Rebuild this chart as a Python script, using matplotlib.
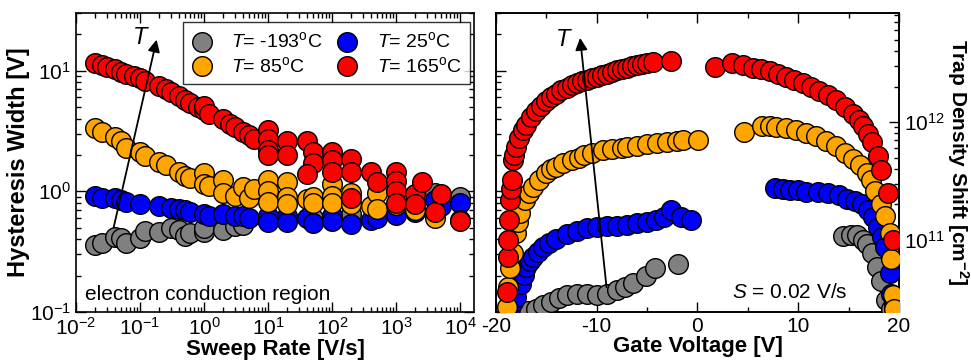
import numpy as np
import matplotlib
matplotlib.use("Agg")
import matplotlib.pyplot as plt
from matplotlib.ticker import LogLocator, MultipleLocator

plt.rcParams['font.family'] = ['Liberation Sans', 'DejaVu Sans']
plt.rcParams['mathtext.fontset'] = 'custom'
plt.rcParams['mathtext.rm'] = 'Liberation Sans'
plt.rcParams['mathtext.it'] = 'Liberation Sans:italic'
plt.rcParams['mathtext.bf'] = 'Liberation Sans:bold'
plt.rcParams['axes.unicode_minus'] = False

# Temperaturas e cores
temps = ['-193', '25', '85', '165']
cores = ['#808080', '#0000FF', '#FFA500', '#FF0000']

# Painel esquerdo: largura de histerese vs taxa de varredura
rate_m193 = [0.02, 0.025, 0.04, 0.05, 0.06, 0.1, 0.12, 0.2, 0.3, 0.4, 0.5, 0.6,
             1, 1, 2, 3, 4, 10, 20, 50, 100, 200, 500, 1000, 2000, 4000, 10000]
hw_m193 = [0.36, 0.37, 0.42, 0.41, 0.37, 0.41, 0.47, 0.46, 0.5, 0.48, 0.43, 0.45,
           0.46, 0.5, 0.48, 0.52, 0.53, 0.57, 0.6, 0.6, 0.62, 0.65, 0.66, 0.7, 0.8, 0.97, 0.9]

rate_25 = [0.02, 0.025, 0.04, 0.05, 0.06, 0.1, 0.2, 0.3, 0.4, 0.5, 0.6, 1, 1.2, 2, 3, 4, 5,
           10, 10, 20, 20, 40, 50, 100, 100, 200, 400, 500, 1000, 2000, 4000, 5000, 10000]
hw_25 = [0.91, 0.88, 0.88, 0.85, 0.82, 0.78, 0.75, 0.73, 0.72, 0.70, 0.68, 0.65, 0.63, 0.65,
         0.62, 0.62, 0.6, 0.62, 0.56, 0.62, 0.56, 0.6, 0.55, 0.62, 0.57, 0.54, 0.58, 0.6,
         0.64, 0.67, 0.84, 0.75, 0.8]

rate_85 = [0.02, 0.025, 0.04, 0.05, 0.06, 0.1, 0.12, 0.2, 0.25, 0.4, 0.5, 0.6, 1, 1, 1.2,
           2, 2, 3, 4, 5, 6, 10, 10, 10, 20, 20, 20, 40, 50, 50, 100, 100, 100, 200, 200,
           400, 500, 500, 1000, 2000, 4000, 10000]
hw_85 = [3.35, 3.1, 2.8, 2.6, 2.3, 2.1, 1.95, 1.75, 1.65, 1.45, 1.35, 1.28, 1.42, 1.15, 1.1,
         1.25, 0.97, 0.92, 1.08, 0.88, 1.05, 1.25, 1.0, 0.82, 1.2, 0.9, 0.78, 0.86, 0.9, 0.8,
         1.15, 0.92, 0.8, 0.97, 0.78, 0.75, 0.97, 0.72, 0.77, 0.7, 0.6, 0.58]

rate_165 = [0.02, 0.025, 0.03, 0.04, 0.05, 0.06, 0.08, 0.1, 0.12, 0.2, 0.25, 0.3, 0.4, 0.5,
            0.6, 0.8, 1, 1, 1.2, 2, 2.5, 3, 4, 5, 6, 10, 10, 10, 10, 20, 20, 40, 50, 50, 40,
            100, 100, 100, 200, 200, 200, 400, 500, 1000, 1000, 1000, 1000, 2000, 2000,
            2500, 4000, 5000, 10000]
hw_165 = [11.6, 11.2, 10.8, 10.4, 9.8, 9.4, 9.0, 8.6, 8.2, 7.4, 7.0, 6.6, 6.1, 5.7, 5.4,
          5.0, 4.7, 5.1, 4.4, 4.0, 3.6, 3.4, 3.1, 2.9, 2.7, 3.2, 2.7, 2.2, 2.0, 2.6, 2.0,
          2.6, 2.1, 1.7, 1.4, 2.1, 1.8, 1.45, 1.85, 1.45, 0.88, 1.45, 1.2, 1.45, 1.22, 1.0,
          0.8, 0.95, 0.78, 1.2, 0.68, 0.95, 0.57]

# Painel direito: deslocamento da densidade de armadilhas (x 1e11 cm^-2) vs tensao de porta
vg_m193 = [-16.8, -16.0, -15.3, -14.5, -13.7, -13.0, -12.0, -11.0, -10.0, -9.0, -8.0, -7.2,
           -6.4, -5.1, -4.2, -1.9,
           14.4, 15.2, 15.8, 16.4, 16.8, 17.3, 17.8, 18.2, 18.7, 19.2]
nt_m193 = [0.25, 0.26, 0.28, 0.30, 0.32, 0.34, 0.35, 0.35, 0.34, 0.35, 0.38, 0.40,
           0.43, 0.49, 0.58, 0.63,
           1.07, 1.10, 1.10, 1.0, 0.93, 0.78, 0.59, 0.45, 0.31, 0.26]

vg_25 = [-18.6, -18.3, -18.0, -17.5, -17.2, -17.0, -16.6, -16.3, -15.8, -15.3, -14.7, -14.0,
         -13.0, -12.0, -11.0, -10.0, -9.0, -8.0, -7.0, -6.0, -5.0, -4.1, -3.3, -2.6, -1.6, -0.6,
         7.7, 8.5, 9.2, 10.0, 10.8, 12.0, 13.0, 14.0, 14.8, 15.6, 16.3, 16.9, 17.4, 17.9,
         18.3, 18.6, 19.1, 19.2, 19.5]
nt_25 = [0.26, 0.30, 0.33, 0.42, 0.50, 0.59, 0.66, 0.72, 0.79, 0.87, 0.95, 1.02,
         1.12, 1.20, 1.26, 1.29, 1.32, 1.32, 1.35, 1.38, 1.41, 1.48, 1.58, 1.78, 1.58, 1.48,
         2.75, 2.7, 2.63, 2.63, 2.57, 2.57, 2.51, 2.4, 2.24, 2.14, 2.0, 1.78, 1.58, 1.29,
         1.05, 0.87, 0.52, 0.35, 0.28]

vg_85 = [-18.9, -18.8, -18.6, -18.3, -18.0, -17.8, -17.6, -17.1, -16.7, -16.3, -15.7, -15.0,
         -14.5, -14.0, -13.3, -12.5, -11.8, -11.3, -10.5, -9.4, -8.5, -7.5, -7.0, -6.0, -5.0,
         -4.0, -3.0, -2.0, -1.4, 0.1,
         4.6, 6.4, 7.2, 7.8, 8.8, 9.8, 10.8, 11.8, 12.8, 13.8, 14.6, 15.4, 16.1, 16.8, 17.2,
         17.6, 18.2, 18.6, 19.1, 19.2, 19.4, 19.5]
nt_85 = [0.27, 0.40, 0.58, 0.78, 1.15, 1.41, 1.70, 2.19, 2.5, 2.82, 3.24, 3.72,
         3.98, 4.17, 4.47, 4.8, 5.0, 5.25, 5.5, 5.75, 5.9, 6.0, 6.17, 6.3, 6.46,
         6.6, 6.76, 6.9, 7.1, 7.1,
         8.3, 9.3, 9.3, 9.1, 8.9, 8.5, 8.1, 7.6, 6.9, 6.2, 5.5, 4.9, 4.3, 3.7, 3.2,
         2.6, 2.0, 1.6, 1.15, 0.69, 0.34, 0.26]

vg_165 = [-18.9, -18.85, -18.8, -18.75, -18.6, -18.5, -18.4, -18.3, -18.2, -18.0, -17.7,
          -17.3, -17.0, -16.5, -16.0, -15.5, -15.0, -14.5, -14.0, -13.5, -13.0, -12.5, -12.0,
          -11.5, -11.0, -10.5, -10.0, -9.5, -9.0, -8.5, -8.0, -7.5, -7.0, -6.5, -6.0, -5.5,
          -5.0, -4.4, -2.6,
          1.7, 3.4, 4.5, 5.5, 6.3, 7.2, 8.0, 8.8, 9.6, 10.5, 11.3, 12.1, 13.0, 13.8, 14.6,
          15.4, 16.0, 16.4, 16.9, 17.3, 17.9, 18.2, 18.9, 19.4]
nt_165 = [0.36, 0.72, 1.0, 1.48, 2.19, 2.7, 3.24, 4.79, 5.3, 6.17, 7.3,
          8.51, 9.5, 10.96, 12.3, 13.8, 15.0, 16.2, 17.4, 18.5, 19.5, 20.5, 21.4,
          22.1, 22.8, 23.4, 24.0, 24.8, 25.6, 26.5, 27.5, 28.2, 28.9, 29.6, 30.2, 30.9,
          31.6, 32.4, 33.1,
          29.5, 31.6, 30.2, 28.8, 28.2, 26.9, 25.7, 24.0, 22.9, 21.4, 20.0, 18.2, 17.0, 15.5,
          13.5, 11.7, 10.5, 9.3, 7.9, 6.8, 5.1, 3.9, 2.5, 1.0]

rates = [rate_m193, rate_25, rate_85, rate_165]
hws = [hw_m193, hw_25, hw_85, hw_165]
vgs = [vg_m193, vg_25, vg_85, vg_165]
nts = [nt_m193, nt_25, nt_85, nt_165]

fig = plt.figure(figsize=(9.71, 3.63), dpi=100)
ax1 = fig.add_axes([0.0783, 0.1405, 0.410, 0.8237])
ax2 = fig.add_axes([0.5108, 0.1405, 0.415, 0.8237])
ax2r = ax2.twinx()

ms = 200
handles = []
for T, c, x, y in zip(temps, cores, rates, hws):
    h = ax1.scatter(x, y, s=ms, color=c, edgecolor='k', linewidth=1.0,
                    label=r'$\mathit{T}$= ' + T + r'$^{\mathrm{o}}$C', zorder=3)
    handles.append(h)

for c, x, y in zip(cores, vgs, nts):
    ax2r.scatter(x, np.array(y) * 1e11, s=ms, color=c, edgecolor='k', linewidth=1.0, zorder=3)

# Eixos do painel esquerdo
ax1.set_xscale('log')
ax1.set_yscale('log')
ax1.set_xlim(1e-2, 1.65e4)
ax1.set_ylim(0.1, 30)
ax1.xaxis.set_major_locator(LogLocator(base=10, numticks=10))
ax1.xaxis.set_minor_locator(LogLocator(base=10, subs=np.arange(2, 10), numticks=20))
ax1.set_xlabel('Sweep Rate [V/s]', fontsize=16, fontweight='bold', labelpad=0)
ax1.set_ylabel('Hysteresis Width [V]', fontsize=17, fontweight='bold', labelpad=0)
ax1.tick_params(which='both', direction='in', top=True, right=True, labelsize=15)
ax1.tick_params(which='major', length=7, width=1)
ax1.tick_params(which='minor', length=3.5, width=1)

# Eixos do painel direito
ax2.set_xlim(-20, 20)
ax2.set_yscale('log')
ax2.set_ylim(0.1, 30)
ax2.xaxis.set_major_locator(MultipleLocator(10))
ax2.xaxis.set_minor_locator(MultipleLocator(5))
ax2.tick_params(which='both', direction='in', top=True, right=False, labelleft=False, labelsize=15)
ax2.tick_params(which='major', length=7, width=1)
ax2.tick_params(which='minor', length=3.5, width=1)
ax2.set_xlabel('Gate Voltage [V]', fontsize=16, fontweight='bold', labelpad=0)

ax2r.set_yscale('log')
ax2r.set_ylim(2.45e10, 8.4e12)
ax2r.tick_params(which='both', direction='in', labelsize=15)
ax2r.tick_params(which='major', length=7, width=1)
ax2r.tick_params(which='minor', length=3.5, width=1)
ax2r.set_ylabel('Trap Density Shift [cm$^{\\mathbf{-2}}$]', fontsize=15, fontweight='bold',
                rotation=270, labelpad=19)

for ax in (ax1, ax2, ax2r):
    for s in ax.spines.values():
        s.set_linewidth(1.2)

# Legenda
ordem = [handles[0], handles[2], handles[1], handles[3]]
leg = ax1.legend(ordem, [h.get_label() for h in ordem],
                 ncol=2, loc='upper right', bbox_to_anchor=(0.99, 0.97), borderaxespad=0,
                 fontsize=14, frameon=True, fancybox=False, edgecolor='k',
                 handlelength=1.0, handletextpad=1.0, columnspacing=0.8,
                 labelspacing=0.25, borderpad=0.45)
leg.get_frame().set_linewidth(1.0)

# Setas de temperatura
ax1.annotate('', xy=(0.204, 0.92), xytext=(0.093, 0.274), xycoords='axes fraction',
             arrowprops=dict(arrowstyle='-|>', color='k', lw=1.3, mutation_scale=18))
ax1.text(0.161, 0.918, 'T', transform=ax1.transAxes, fontsize=17, style='italic',
         ha='center', va='center')
ax2r.annotate('', xy=(0.208, 0.926), xytext=(0.275, 0.074), xycoords='axes fraction',
              arrowprops=dict(arrowstyle='-|>', color='k', lw=1.3, mutation_scale=18))
ax2r.text(0.166, 0.91, 'T', transform=ax2r.transAxes, fontsize=17, style='italic',
          ha='center', va='center')

ax1.text(0.023, 0.04, 'electron conduction region', transform=ax1.transAxes,
         fontsize=15, ha='left', va='baseline')
ax2r.text(0.586, 0.047, r'$\mathit{S}$ = 0.02 V/s', transform=ax2r.transAxes,
          fontsize=15, ha='left', va='baseline')

fig.savefig('out.png', dpi=100)
